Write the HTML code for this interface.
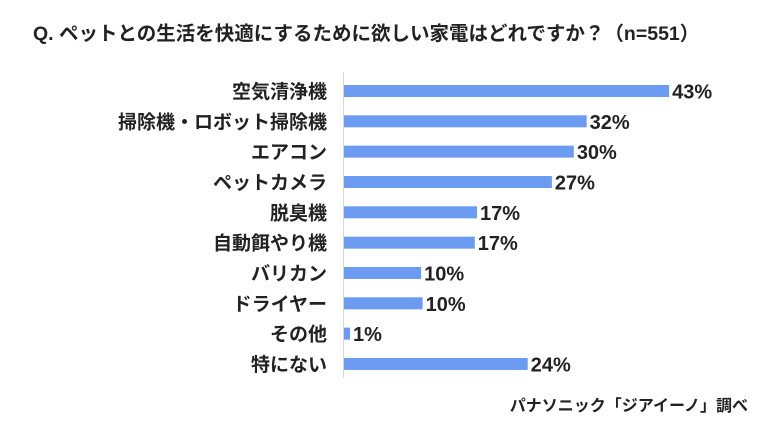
<!DOCTYPE html>
<html><head><meta charset="utf-8"><style>
body{margin:0;background:#fff;width:770px;height:433px;overflow:hidden;font-family:"Liberation Sans","Noto Sans CJK JP",sans-serif;}
</style></head><body>
<svg width="770" height="433" font-family="'Liberation Sans','Noto Sans CJK JP',sans-serif">
<text x="33" y="40" font-size="19.5" font-weight="bold" fill="#222">Q. ペットとの生活を快適にするために欲しい家電はどれですか？（n=551）</text>
<line x1="343.5" y1="72" x2="343.5" y2="378" stroke="#d9d9d9" stroke-width="1"/>
<g id="bars"></g>
<text x="748" y="411" font-size="16" font-weight="bold" fill="#222" text-anchor="end">パナソニック「ジアイーノ」調べ</text>
</svg>
<script>
const categories=["空気清浄機","掃除機・ロボット掃除機","エアコン","ペットカメラ","脱臭機","自動餌やり機","バリカン","ドライヤー","その他","特にない"];
const values=[43,32.1,30.4,27.5,17.6,17.3,10.2,10.4,0.8,24.3];
const valueLabels=["43%","32%","30%","27%","17%","17%","10%","10%","1%","24%"];
const x0=344,pxPer=7.56,y0=91,step=30.33,bh=12;
const xs=v=>x0+v*pxPer, ys=i=>y0+i*step;
const g=document.getElementById('bars'),NS="http://www.w3.org/2000/svg";
categories.forEach((c,i)=>{
  const r=document.createElementNS(NS,'rect');
  r.setAttribute('x',x0);r.setAttribute('y',ys(i)-bh/2);
  r.setAttribute('width',xs(values[i])-x0);r.setAttribute('height',bh);
  r.setAttribute('fill','#6b9cf2');
  
  
  g.appendChild(r);
  const t=document.createElementNS(NS,'text');
  t.setAttribute('x',327);t.setAttribute('y',ys(i)+7);
  t.setAttribute('text-anchor','end');t.setAttribute('font-size','19');
  t.setAttribute('font-weight','bold');t.setAttribute('fill','#222');
  t.textContent=c;
  
  
  g.appendChild(t);
  const v=document.createElementNS(NS,'text');
  v.setAttribute('x',xs(values[i])+3);v.setAttribute('y',ys(i)+7.5);
  v.setAttribute('font-size','20');
  v.setAttribute('font-weight','bold');v.setAttribute('fill','#222');
  v.textContent=valueLabels[i];
  
  
  g.appendChild(v);
});
</script>
</body></html>
